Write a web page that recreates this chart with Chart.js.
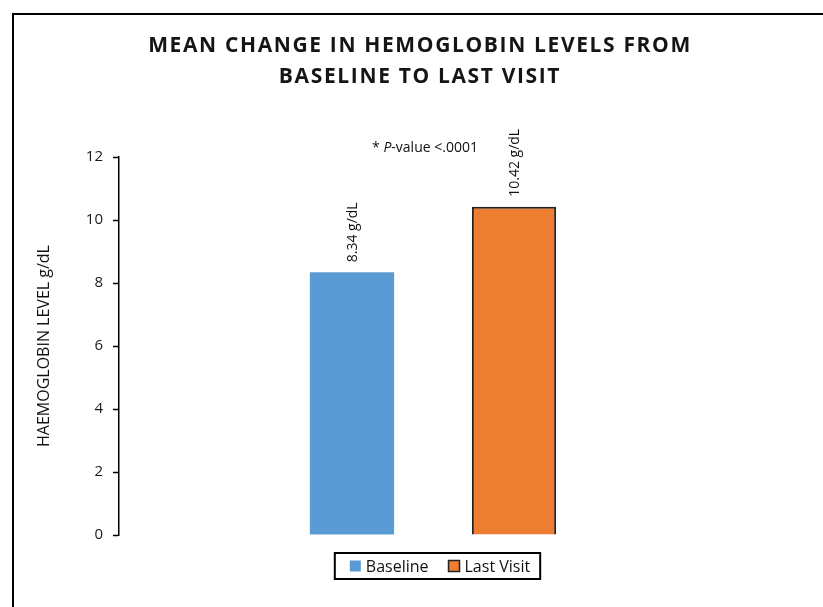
<!DOCTYPE html>
<html>
<head>
<meta charset="utf-8">
<script src="https://cdn.jsdelivr.net/npm/chart.js@4.4.1/dist/chart.umd.min.js"></script>
<style>
  html, body { margin: 0; padding: 0; background: #fff; }
  #wrap { position: relative; width: 823px; height: 607px; }
  #frame { position: absolute; left: 12px; top: 13px; right: 0; bottom: 0;
           border-top: 2px solid #000; border-left: 2px solid #000; pointer-events: none; }
</style>
</head>
<body>
<div id="wrap">
  <canvas id="hbChart" width="823" height="607"></canvas>
  <div id="frame"></div>
</div>
<script>
// values
var categories = [""];
var seriesNames = ["Baseline", "Last Visit"];
var baselineValues = [8.34];
var lastVisitValues = [10.42];
var valueLabels = ["8.34 g/dL", "10.42 g/dL"];
var yTicks = [0, 2, 4, 6, 8, 10, 12];
var titleLines = ["MEAN CHANGE IN HEMOGLOBIN LEVELS FROM", "BASELINE TO LAST VISIT"];

var fontFam = "'Open Sans', 'Liberation Sans', sans-serif";

// rotated value labels above each bar
var barLabels = {
  id: "barLabels",
  afterDatasetsDraw: function(chart) {
    var ctx = chart.ctx;
    chart.data.datasets.forEach(function(ds, i) {
      var bar = chart.getDatasetMeta(i).data[0];
      ctx.save();
      ctx.translate(bar.x + 1, bar.y - 10);
      ctx.rotate(-Math.PI / 2);
      ctx.font = "14px " + fontFam;
      ctx.fillStyle = "#111";
      ctx.textAlign = "left";
      ctx.textBaseline = "middle";
      ctx.fillText(valueLabels[i], 0, 0);
      ctx.restore();
    });
  }
};

// title, p-value note and boxed legend
var extras = {
  id: "extras",
  afterDraw: function(chart) {
    var ctx = chart.ctx;
    var xs = chart.scales.x, ys = chart.scales.y;

    // title
    ctx.save();
    ctx.fillStyle = "#151515";
    ctx.font = "bold 21px " + fontFam;
    ctx.textAlign = "center";
    ctx.textBaseline = "middle";
    var w0 = ctx.measureText(titleLines[0]).width;
    var sp = Math.max(0, (542 - w0) / (titleLines[0].length - 1));
    ctx.letterSpacing = sp.toFixed(2) + "px";
    ctx.fillText(titleLines[0], 420, 46);
    ctx.fillText(titleLines[1], 420, 77);
    ctx.restore();

    // p-value note
    var cx = xs.getPixelForValue(0) - 8;
    var cy = ys.getPixelForValue(12.3);
    var parts = [["14px " + fontFam, "* "], ["italic 14px " + fontFam, "P"], ["14px " + fontFam, "-value <.0001"]];
    var total = 0;
    parts.forEach(function(p) { ctx.font = p[0]; total += ctx.measureText(p[1]).width; });
    var x = cx - total / 2;
    ctx.save();
    ctx.fillStyle = "#111";
    ctx.textBaseline = "middle";
    parts.forEach(function(p) { ctx.font = p[0]; ctx.fillText(p[1], x, cy); x += ctx.measureText(p[1]).width; });
    ctx.restore();

    // legend with a frame
    var dss = chart.data.datasets;
    ctx.save();
    ctx.font = "16px " + fontFam;
    var box = 11, gap = 5, itemGap = 20, padL = 15, padR = 10;
    var widths = dss.map(function(d) { return ctx.measureText(d.label).width; });
    var full = padL + padR + itemGap * (dss.length - 1);
    widths.forEach(function(w) { full += box + gap + w; });
    var lx = 437.5 - full / 2, ly = 566;
    ctx.strokeStyle = "#000";
    ctx.lineWidth = 2;
    ctx.strokeRect(lx, ly - 13, full, 26);
    var px = lx + padL;
    ctx.textBaseline = "middle";
    dss.forEach(function(d, i) {
      ctx.fillStyle = d.backgroundColor;
      ctx.fillRect(px, ly - 5.5, box, box);
      if (d.borderWidth) {
        ctx.strokeStyle = d.borderColor;
        ctx.lineWidth = 1.5;
        ctx.strokeRect(px, ly - 5.5, box, box);
      }
      px += box + gap;
      ctx.fillStyle = "#111";
      ctx.fillText(d.label, px, ly + 1);
      px += widths[i] + itemGap;
    });
    ctx.restore();
  }
};

var ctx = document.getElementById("hbChart").getContext("2d");
var myBar = new Chart(ctx, {
  type: "bar",
  data: {
    labels: categories,
    datasets: [
      {
        label: seriesNames[0],
        data: baselineValues,
        backgroundColor: "#5B9BD5",
        borderWidth: 0,
        categoryPercentage: 0.516,
        barPercentage: 0.52
      },
      {
        label: seriesNames[1],
        data: lastVisitValues,
        backgroundColor: "#ED7D31",
        borderColor: "#222",
        borderWidth: 2,
        categoryPercentage: 0.516,
        barPercentage: 0.52
      }
    ]
  },
  options: {
    responsive: false,
    animation: false,
    layout: { padding: { left: 26, right: 76, top: 157, bottom: 72 } },
    plugins: {
      title: { display: false },
      legend: { display: false },
      tooltip: { enabled: false }
    },
    scales: {
      x: { display: false },
      y: {
        min: 0,
        max: 12,
        afterBuildTicks: function(axis) { axis.ticks = yTicks.map(function(v) { return { value: v }; }); },
        afterFit: function(axis) { axis.width = 93; },
        ticks: { color: "#1a1a1a", font: { family: fontFam, size: 15 }, padding: 10 },
        grid: { drawOnChartArea: false, color: "#000", tickLength: 6, tickWidth: 1.5 },
        border: { display: true, color: "#000", width: 1.5 },
        title: {
          display: true,
          text: "HAEMOGLOBIN LEVEL g/dL",
          color: "#111",
          font: { family: fontFam, size: 16 },
          padding: { top: 9, bottom: 0 }
        }
      }
    }
  },
  plugins: [barLabels, extras]
});
</script>
</body>
</html>
